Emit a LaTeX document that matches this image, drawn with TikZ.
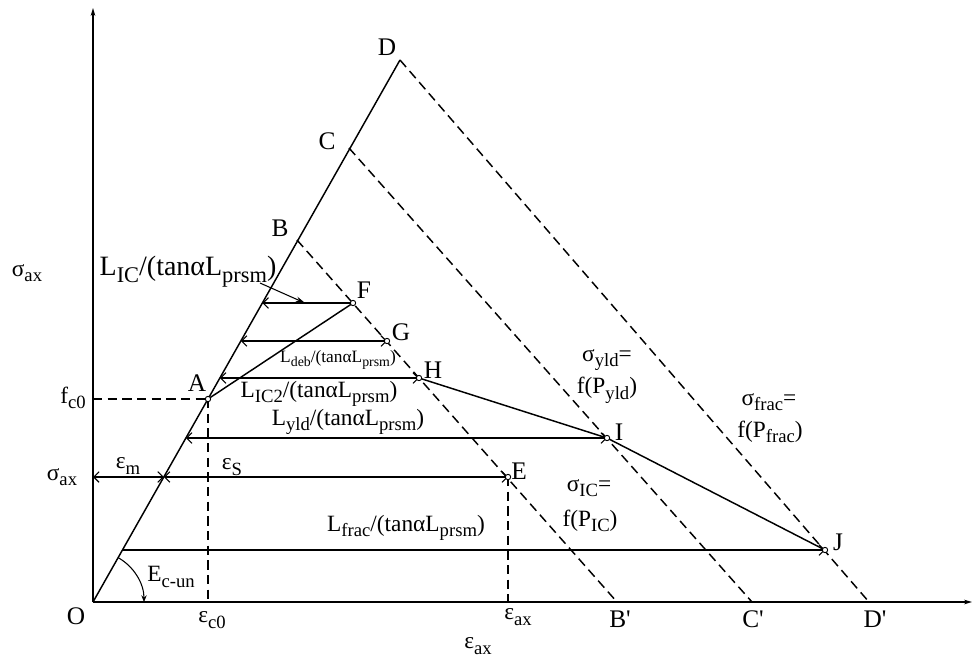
\documentclass[tikz,border=0pt]{standalone}
\usepackage{fontspec}
\setmainfont{Liberation Serif}
\usetikzlibrary{arrows.meta}
\newcommand{\sbs}[1]{\raisebox{-0.24em}{\scalebox{0.8}{#1}}}
\newcommand{\prm}{\textquotesingle}
\begin{document}
\begin{tikzpicture}[x=0.75pt,y=-0.75pt,
  ln/.style={line width=1.1pt},
  dsh/.style={line width=1.1pt, dash pattern=on 7pt off 4pt},
  barb/.tip={Straight Barb[length=4pt,width=8pt,line width=0.8pt]},
  dim/.style={line width=1.1pt, barb-barb},
  pt/.style={circle, draw, fill=white, inner sep=0pt, minimum size=4pt, line width=0.7pt},
  lbl/.style={font=\fontsize{17.5}{20}\selectfont, inner sep=0pt},
  let/.style={font=\fontsize{19}{21}\selectfont, inner sep=0pt},
  big/.style={font=\fontsize{21}{23}\selectfont, inner sep=0pt},
  sml/.style={font=\fontsize{13}{15}\selectfont, inner sep=0pt}]
\useasboundingbox (0,0) rectangle (973,660);
% key coordinates
\coordinate (O) at (93,602);
\coordinate (Ytop) at (93,8);
\coordinate (Xend) at (972,602);
\coordinate (D) at (400,60);
\coordinate (C) at (349,148);
\coordinate (B) at (297,240);
\coordinate (Bp) at (617,602);
\coordinate (Cp) at (752,602);
\coordinate (Dp) at (869,602);
\coordinate (A) at (208,399);
\coordinate (F) at (353,303);
\coordinate (G) at (387,341);
\coordinate (H) at (419,378);
\coordinate (E) at (508,477);
\coordinate (I) at (607,438);
\coordinate (J) at (825,550);
\coordinate (F0) at (262.4,303);
\coordinate (G0) at (240.8,341);
\coordinate (H0) at (219.9,378);
\coordinate (I0) at (185.9,438);
\coordinate (E0) at (163.8,477);
\coordinate (J0) at (122.5,550);
\coordinate (Eax) at (93,477);
\coordinate (fc) at (93,399);
\coordinate (Abot) at (208,602);
\coordinate (Ebot) at (508,602);
\coordinate (ptr) at (260,283);
\coordinate (ptrend) at (305,303);
% axes
\draw[ln,-{Stealth[length=6pt,width=3.5pt]}] (O) -- (Ytop);
\draw[ln,-{Stealth[length=6pt,width=3.5pt]}] (O) -- (Xend);
% main slope
\draw[ln] (O) -- (D);
% dashed unloading lines
\draw[dsh] (B) -- (Bp);
\draw[dsh] (C) -- (Cp);
\draw[dsh] (D) -- (Dp);
\draw[dsh] (fc) -- (A);
\draw[dsh] (A) -- (Abot);
\draw[dsh] (E) -- (Ebot);
% solid path
\draw[ln] (A) -- (F);
\draw[ln] (H) -- (I) -- (J);
% dimension arrows
\draw[ln,-barb] (F) -- (F0);
\draw[dim] (G0) -- (G);
\draw[dim] (H0) -- (H);
\draw[dim] (I0) -- (I);
\draw[dim] (Eax) -- (E0);
\draw[dim] (E0) -- (E);
\draw[ln,-barb] (J0) -- (J);
\draw[line width=0.8pt,-{Stealth[length=7pt,width=4pt]}] (ptr) -- (ptrend);
% angle arc
\draw[line width=0.8pt,-{Stealth[length=5pt,width=4pt]}] (O) ++(-60.5:51) arc[start angle=-60.5,end angle=0,radius=51];
% points
\foreach \p in {A,F,G,H,I,E,J} \node[pt] at (\p) {};
% labels
\node[let] at (76,616) {O};
\node[lbl] at (27,273) {σ\sbs{ax}};
\node[lbl] at (73,398) {f\sbs{c0}};
\node[lbl] at (62,477) {σ\sbs{ax}};
\node[lbl] at (128,466) {ε\sbs{m}};
\node[lbl] at (232,467) {ε\sbs{S}};
\node[let] at (197,383) {A};
\node[let] at (364,290) {F};
\node[let] at (401,332) {G};
\node[let] at (433,370) {H};
\node[let] at (619,432) {I};
\node[let] at (519,471) {E};
\node[let] at (838,542) {J};
\node[let] at (387,47) {D};
\node[let] at (327,141) {C};
\node[let] at (280,228) {B};
\node[let] at (620,619) {B\prm};
\node[let] at (753,619) {C\prm};
\node[let] at (875,619) {D\prm};
\node[lbl] at (212,620) {ε\sbs{c0}};
\node[lbl] at (518,617) {ε\sbs{ax}};
\node[lbl] at (478,646) {ε\sbs{ax}};
\node[lbl] at (171,577) {E\sbs{c-un}};
\node[big] at (188,272) {L\sbs{IC}/(tanαL\sbs{prsm})};
\node[sml] at (338,360) {L\sbs{deb}/(tanαL\sbs{prsm})};
\node[lbl] at (319,394) {L\sbs{IC2}/(tanαL\sbs{prsm})};
\node[lbl] at (348,422) {L\sbs{yld}/(tanαL\sbs{prsm})};
\node[lbl] at (406,528) {L\sbs{frac}/(tanαL\sbs{prsm})};
\node[lbl] at (607,360) {σ\sbs{yld}=};
\node[lbl] at (607,390) {f(P\sbs{yld})};
\node[lbl] at (769,402) {σ\sbs{frac}=};
\node[lbl] at (770,432) {f(P\sbs{frac})};
\node[lbl] at (589,488) {σ\sbs{IC}=};
\node[lbl] at (590,521) {f(P\sbs{IC})};
\end{tikzpicture}
\end{document}
